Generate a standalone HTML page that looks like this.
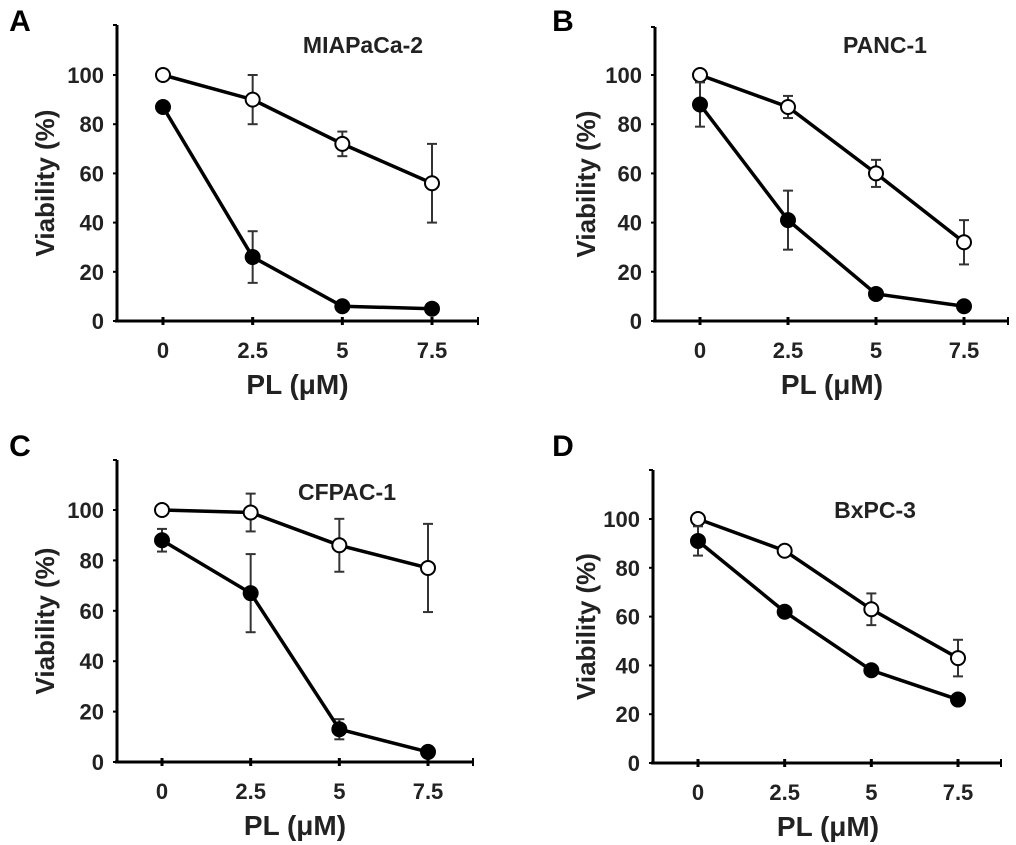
<!DOCTYPE html>
<html><head><meta charset="utf-8"><style>
html,body{margin:0;padding:0;background:#fff;}
svg{display:block;font-family:"Liberation Sans",Arial,sans-serif;}
</style></head><body>
<svg id="fig" width="1016" height="845" viewBox="0 0 1016 845"></svg>
<script>
const xCategories=[0,2.5,5,7.5];
const xTickLabels=["0","2.5","5","7.5"];
const yTickValues=[0,20,40,60,80,100];
const titles=["MIAPaCa-2","PANC-1","CFPAC-1","BxPC-3"];
const letters=["A","B","C","D"];
const openA=[100,90,72,56];const openAErr=[0,10,5,16];
const fillA=[87,26,6,5];const fillAErr=[0,10.5,0,0];
const openB=[100,87,60,32];const openBErr=[0,4.5,5.5,9];
const fillB=[88,41,11,6];const fillBErr=[9,12,0,0];
const openC=[100,99,86,77];const openCErr=[0,7.5,10.5,17.5];
const fillC=[88,67,13,4];const fillCErr=[4.5,15.5,4,0];
const openD=[100,87,63,43];const openDErr=[0,0,6.5,7.5];
const fillD=[91,62,38,26];const fillDErr=[6,0,0,0];
const panels=[
 {ax:117,bot:321,y100:75,top:25,x0:163,x75:432,xend:478,tx:363,ty:45,lx:20,ly:20,ylx:45,open:openA,openE:openAErr,fill:fillA,fillE:fillAErr},
 {ax:655,bot:321,y100:75,top:27,x0:700,x75:964,xend:1008,tx:885,ty:45,lx:563,ly:20,ylx:586,open:openB,openE:openBErr,fill:fillB,fillE:fillBErr},
 {ax:117,bot:762,y100:510,top:460,x0:162,x75:428,xend:473,tx:347,ty:492,lx:20,ly:445,ylx:45,open:openC,openE:openCErr,fill:fillC,fillE:fillCErr},
 {ax:653,bot:763,y100:519,top:470,x0:698,x75:958,xend:1001,tx:875,ty:510,lx:563,ly:445,ylx:586,open:openD,openE:openDErr,fill:fillD,fillE:fillDErr}
];
const NS="http://www.w3.org/2000/svg";
const svg=document.getElementById('fig');
function mk(tag,attrs,parent,text){const e=document.createElementNS(NS,tag);for(const k in attrs)e.setAttribute(k,attrs[k]);if(text!==undefined)e.textContent=text;parent.appendChild(e);return e;}
panels.forEach((p,i)=>{
 const g=mk('g',{},svg);
 
 
 const xs=v=>p.x0+(v-xCategories[0])/(xCategories[3]-xCategories[0])*(p.x75-p.x0);
 const ys=v=>p.bot-(v/100)*(p.bot-p.y100);
 let t=mk('text',{x:p.lx,y:p.ly+11,'font-size':30,'font-weight':'bold','text-anchor':'middle'},g,letters[i]);
 
 
 t=mk('text',{x:p.tx,y:p.ty+8,'font-size':23,'font-weight':'bold','text-anchor':'middle',fill:'#222'},g,titles[i]);
 
 
 let a=mk('line',{x1:p.ax,y1:p.top,x2:p.ax,y2:p.bot+1,stroke:'#000','stroke-width':3},g);
 
 
 a=mk('line',{x1:p.ax-2,y1:p.bot,x2:p.xend,y2:p.bot,stroke:'#000','stroke-width':3},g);
 
 
 mk('line',{x1:p.xend,y1:p.bot-4,x2:p.xend,y2:p.bot+4,stroke:'#000','stroke-width':2},g);
 mk('line',{x1:p.ax-4,y1:p.top,x2:p.ax,y2:p.top,stroke:'#000','stroke-width':2},g);
 yTickValues.forEach(v=>{
  mk('line',{x1:p.ax-4,y1:ys(v),x2:p.ax,y2:ys(v),stroke:'#000','stroke-width':2},g);
  const l=mk('text',{x:p.ax-13,y:ys(v)+8,'font-size':22,'font-weight':'bold','text-anchor':'end',fill:'#222'},g,String(v));
  
  
 });
 xCategories.forEach((v,k)=>{
  mk('line',{x1:xs(v),y1:p.bot-4,x2:xs(v),y2:p.bot+4,stroke:'#000','stroke-width':3},g);
  const l=mk('text',{x:xs(v),y:p.bot+37,'font-size':22,'font-weight':'bold','text-anchor':'middle',fill:'#222'},g,xTickLabels[k]);
  
  
 });
 t=mk('text',{x:(p.x0+p.x75)/2,y:p.bot+73,'font-size':28,'font-weight':'bold','text-anchor':'middle',fill:'#222'},g,'PL (\u03bcM)');
 
 
 const ymid=(p.top+p.bot)/2+10;
 t=mk('text',{x:p.ylx,y:ymid,'font-size':26,'font-weight':'bold','text-anchor':'middle',fill:'#222',transform:`rotate(-90 ${p.ylx} ${ymid}) translate(0 9)`},g,'Viability (%)');
 
 
 [[p.open,p.openE,'#fff','open'],[p.fill,p.fillE,'#000','filled']].forEach(([vals,errs,fc,nm])=>{
  vals.forEach((v,k)=>{if(errs[k]>0){const x=xs(xCategories[k]);
   const e=mk('g',{stroke:'#333','stroke-width':2},g);
   
   
   mk('line',{x1:x,y1:ys(v+errs[k]),x2:x,y2:ys(v-errs[k])},e);
   mk('line',{x1:x-5,y1:ys(v+errs[k]),x2:x+5,y2:ys(v+errs[k])},e);
   mk('line',{x1:x-5,y1:ys(v-errs[k]),x2:x+5,y2:ys(v-errs[k])},e);}});
  const pts=vals.map((v,k)=>xs(xCategories[k])+','+ys(v)).join(' ');
  const pl=mk('polyline',{points:pts,fill:'none',stroke:'#000','stroke-width':3.5},g);
  
  
  vals.forEach((v,k)=>{
   const c=mk('circle',{cx:xs(xCategories[k]),cy:ys(v),r:7,fill:fc,stroke:'#000','stroke-width':2},g);
   
   
  });
 });
});
</script>
</body></html>
